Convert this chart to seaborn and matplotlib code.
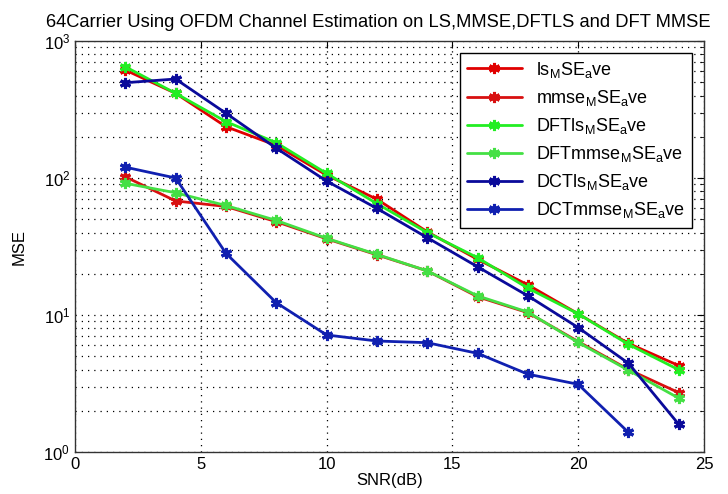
import numpy as np
import pandas as pd
import matplotlib
matplotlib.use("Agg")
import matplotlib.pyplot as plt
import seaborn as sns

# SNR points (dB)
snr = [2, 4, 6, 8, 10, 12, 14, 16, 18, 20, 22, 24]
snr_dct_mmse = [2, 4, 6, 8, 10, 12, 14, 16, 18, 20, 22]

# MSE values
ls_mse = [614, 415, 237, 173, 105, 70, 40.5, 25.5, 16.6, 10.2, 6.2, 4.27]
mmse_mse = [102, 68, 62, 48, 36, 27.5, 21, 13.6, 10.4, 6.4, 4.0, 2.71]
dft_ls_mse = [649, 415, 258, 181, 108, 65, 40, 26.2, 15.7, 10.2, 6.1, 3.98]
dft_mmse_mse = [91.5, 78, 63, 49, 36.3, 27.7, 21, 13.8, 10.5, 6.3, 3.95, 2.47]
dct_ls_mse = [496, 528, 297, 165, 95, 60, 36.7, 22.5, 13.8, 8.1, 4.44, 1.59]
dct_mmse_mse = [120, 100, 28.2, 12.3, 7.15, 6.46, 6.28, 5.25, 3.7, 3.12, 1.39]

labels = [
    r"ls$_\mathrm{M}$SE$_\mathrm{a}$ve",
    r"mmse$_\mathrm{M}$SE$_\mathrm{a}$ve",
    r"DFTls$_\mathrm{M}$SE$_\mathrm{a}$ve",
    r"DFTmmse$_\mathrm{M}$SE$_\mathrm{a}$ve",
    r"DCTls$_\mathrm{M}$SE$_\mathrm{a}$ve",
    r"DCTmmse$_\mathrm{M}$SE$_\mathrm{a}$ve",
]
colors = ["#e00000", "#d81010", "#22ee22", "#44e044", "#0a0a9a", "#1020b0"]

series = [
    (snr, ls_mse),
    (snr, mmse_mse),
    (snr, dft_ls_mse),
    (snr, dft_mmse_mse),
    (snr, dct_ls_mse),
    (snr_dct_mmse, dct_mmse_mse),
]

sns.set_style("white")
plt.rcParams["font.family"] = ["Liberation Sans", "DejaVu Sans"]
plt.rcParams["mathtext.fontset"] = "custom"
plt.rcParams["mathtext.rm"] = "Liberation Sans"
plt.rcParams["text.color"] = "black"
plt.rcParams["axes.labelcolor"] = "black"
plt.rcParams["xtick.color"] = "black"
plt.rcParams["ytick.color"] = "black"

fig = plt.figure(figsize=(7.28, 4.94), dpi=100)
ax = fig.add_axes([0.103, 0.085, 0.864, 0.832])

for (x, y), lab, col in zip(series, labels, colors):
    df = pd.DataFrame({"SNR": x, "MSE": y})
    sns.lineplot(data=df, x="SNR", y="MSE", ax=ax, color=col, linewidth=2,
                 marker=(6, 2, 0), markersize=8, markeredgewidth=2.2,
                 markeredgecolor=col, label=lab)

ax.set_yscale("log")
ax.set_xlim(0, 25)
ax.set_ylim(1, 1000)
ax.set_xticks([0, 5, 10, 15, 20, 25])
dots = (0, (1, 4))
ax.grid(True, which="major", axis="both", color="black", linestyle=dots, linewidth=0.9)
ax.grid(True, which="minor", axis="y", color="black", linestyle=dots, linewidth=0.9)
ax.tick_params(direction="in", which="both", top=True, right=True, labelsize=12)
ax.tick_params(which="major", length=5)
ax.tick_params(which="minor", length=3)
for s in ax.spines.values():
    s.set_color("#333333")
    s.set_linewidth(1)

ax.set_xlabel("SNR(dB)", fontsize=12, labelpad=1)
ax.set_ylabel("MSE", fontsize=12, labelpad=12)
fig.text(0.52, 0.955,
         "64Carrier Using OFDM Channel Estimation on LS,MMSE,DFTLS and DFT MMSE",
         fontsize=13.2, ha="center", va="center")

leg = ax.legend(loc="upper right", fontsize=13, frameon=True, fancybox=False,
                edgecolor="black", framealpha=1, handlelength=3.0,
                borderaxespad=0.3, labelspacing=0.45, bbox_to_anchor=(0.99, 0.985))
leg.get_frame().set_linewidth(1)

fig.savefig("out.png", dpi=100)
